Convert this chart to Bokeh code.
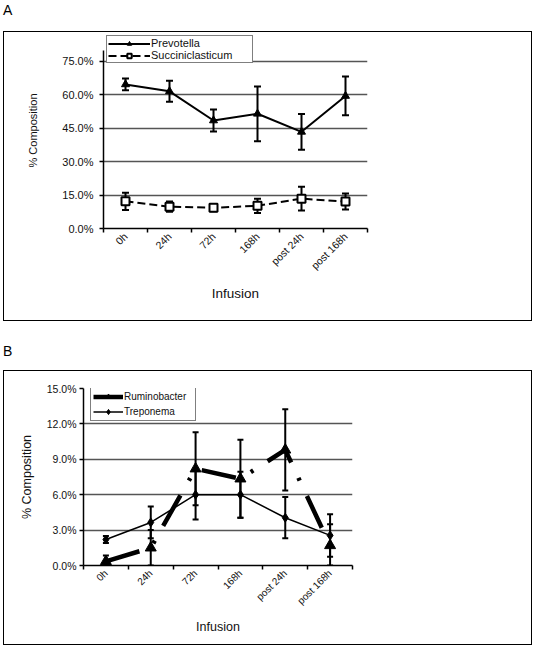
import math
from bokeh.plotting import figure
from bokeh.models import (ColumnDataSource, Range1d, FixedTicker, PrintfTickFormatter,
                          Whisker, TeeHead, Legend, LegendItem, Div)
from bokeh.layouts import column
from bokeh.embed import file_html
from bokeh.resources import INLINE

FONT = "Liberation Sans"
TXT = "#111111"

categories = ["0h", "24h", "72h", "168h", "post 24h", "post 168h"]

# Panel A (% composition)
prevotella = [64.7, 61.6, 48.5, 51.5, 43.4, 59.5]
prevotella_err = [2.6, 4.7, 4.9, 12.3, 8.0, 8.7]
succiniclasticum = [12.2, 9.8, 9.3, 10.2, 13.4, 12.1]
succiniclasticum_err = [3.9, 2.3, 1.6, 3.2, 5.3, 3.6]
ticks_a = [0, 15, 30, 45, 60, 75]
axis_max_a = 80

# Panel B (% composition)
ruminobacter = [0.35, 1.5, 8.2, 7.35, 9.8, 1.7]
ruminobacter_err = [0.5, 1.5, 3.1, 3.3, 3.45, 1.8]
treponema = [2.2, 3.65, 6.0, 6.0, 4.05, 2.55]
treponema_err = [0.3, 1.35, 2.1, 1.95, 1.75, 1.8]
ticks_b = [0, 3, 6, 9, 12, 15]
axis_max_b = 15

x_pos = [i + 0.5 for i in range(len(categories))]
label_map = {x: c for x, c in zip(x_pos, categories)}
boundaries = list(range(len(categories) + 1))


def panel(width, height, borders, ymax, axis_max, yticks, ytick_fs, xtick_fs, ylab_fs, xlab_fs,
          ylab_standoff, xlab_standoff, ytick_standoff):
    left, right, top, bottom = borders
    p = figure(width=width, height=height,
               x_range=Range1d(0, len(categories)), y_range=Range1d(0, ymax),
               output_backend="svg", toolbar_location=None, frame_align=False,
               min_border_left=left, min_border_right=right,
               min_border_top=top, min_border_bottom=bottom,
               margin=(0, 0, 0, 3),
               styles={"border": "1px solid #000"})
    p.outline_line_color = None
    p.background_fill_color = "white"
    p.border_fill_color = "white"
    xa = p.xaxis[0]
    xa.ticker = FixedTicker(ticks=x_pos, minor_ticks=boundaries)
    xa.major_label_overrides = label_map
    xa.major_label_orientation = math.pi / 4
    xa.major_tick_line_color = None
    xa.major_tick_out = 0
    xa.major_tick_in = 0
    xa.minor_tick_out = 4
    xa.minor_tick_in = 0
    xa.minor_tick_line_color = "black"
    xa.minor_tick_line_width = 1.5
    xa.major_label_standoff = 2
    xa.major_label_text_font_size = xtick_fs
    xa.axis_label = "Infusion"
    xa.axis_label_text_font_size = xlab_fs
    xa.axis_label_standoff = xlab_standoff
    ya = p.yaxis[0]
    ya.ticker = FixedTicker(ticks=yticks)
    ya.formatter = PrintfTickFormatter(format="%.1f%%")
    ya.bounds = (0, axis_max)
    ya.minor_tick_line_color = None
    ya.major_tick_out = 4
    ya.major_tick_in = 0
    ya.major_label_standoff = ytick_standoff
    ya.major_label_text_font_size = ytick_fs
    ya.axis_label = "% Composition"
    ya.axis_label_text_font_size = ylab_fs
    ya.axis_label_standoff = ylab_standoff
    for ax in (xa, ya):
        ax.axis_line_color = "black"
        ax.axis_line_width = 1.5
        ax.major_tick_line_width = 1.5
        ax.major_label_text_font = FONT
        ax.major_label_text_color = TXT
        ax.axis_label_text_font = FONT
        ax.axis_label_text_font_style = "normal"
        ax.axis_label_text_color = TXT
    p.xgrid.visible = False
    p.ygrid[0].ticker = FixedTicker(ticks=yticks[1:])
    p.ygrid.grid_line_color = "#555555"
    p.ygrid.grid_line_width = 1.5
    return p


def errorbars(p, vals, errs, head, lw):
    src = ColumnDataSource(dict(x=x_pos,
                                upper=[v + e for v, e in zip(vals, errs)],
                                lower=[max(0, v - e) for v, e in zip(vals, errs)]))
    w = Whisker(source=src, base="x", upper="upper", lower="lower",
                line_color="black", line_width=lw,
                upper_head=TeeHead(size=head, line_width=lw, line_color="black"),
                lower_head=TeeHead(size=head, line_width=lw, line_color="black"))
    p.add_layout(w)


# ---------- Panel A ----------
# frame extends above the 80% axis end so the legend can sit there
pa = panel(529, 290, (99, 166, 0, 94), 88.0, axis_max_a, ticks_a,
           "11px", "10.5px", "11px", "13.5px", 20, 7, 6)
errorbars(pa, prevotella, prevotella_err, 7, 2)
errorbars(pa, succiniclasticum, succiniclasticum_err, 7, 2)
l1 = pa.line(x_pos, prevotella, line_color="black", line_width=2)
m1 = pa.scatter(x_pos, prevotella, marker="triangle", size=8, fill_color="black", line_color="black")
l2 = pa.line(x_pos, succiniclasticum, line_color="black", line_width=2, line_dash="8 4")
m2 = pa.scatter(x_pos, succiniclasticum, marker="square", size=8, fill_color="white",
                line_color="black", line_width=2)
leg_a = Legend(items=[LegendItem(label="Prevotella", renderers=[l1, m1]),
                      LegendItem(label="Succiniclasticum", renderers=[l2, m2])],
               location="top_left", padding=1, spacing=0, margin=3,
               label_height=11, glyph_height=11, glyph_width=42, label_standoff=1,
               label_width=100, label_text_font=FONT, label_text_font_size="11px",
               label_text_color=TXT, border_line_color="black", border_line_width=1.2,
               background_fill_color="white", background_fill_alpha=1)
pa.add_layout(leg_a)

# ---------- Panel B ----------
pb = panel(529, 275, (79, 181, 17, 81), axis_max_b, axis_max_b, ticks_b,
           "10.5px", "10px", "12.5px", "12.5px", 10, 7, 3)
errorbars(pb, ruminobacter, ruminobacter_err, 6, 2)
errorbars(pb, treponema, treponema_err, 6, 2)
l3 = pb.line(x_pos, ruminobacter, line_color="black", line_width=4.5, line_dash="35 17 3 17")
m3 = pb.scatter(x_pos, ruminobacter, marker="triangle", size=11, fill_color="black", line_color="black")
l4 = pb.line(x_pos, treponema, line_color="black", line_width=1.5)
m4 = pb.scatter(x_pos, treponema, marker="diamond", size=9, fill_color="black", line_color="black")
leg_b = Legend(items=[LegendItem(label="Ruminobacter", renderers=[l3, m3]),
                      LegendItem(label="Treponema", renderers=[l4, m4])],
               location=(7, 144), padding=2, spacing=2, margin=0,
               label_height=13, glyph_height=13, glyph_width=30, label_standoff=1,
               label_width=69, label_text_font=FONT, label_text_font_size="10px",
               label_text_color=TXT, border_line_color="black", border_line_width=1.2,
               background_fill_color="white", background_fill_alpha=1)
pb.add_layout(leg_b)


def letter(ch, h, pad_top):
    return Div(text=f'<div style="font-family:{FONT}; font-size:14px; line-height:14px; '
                    f'padding-top:{pad_top}px; padding-left:3px; color:#000;">{ch}</div>',
               width=534, height=h, margin=0)


layout = column(letter("A", 31, 3), pa, letter("B", 49, 23), pb, spacing=0)

open("out.html", "w").write(file_html(layout, INLINE))
